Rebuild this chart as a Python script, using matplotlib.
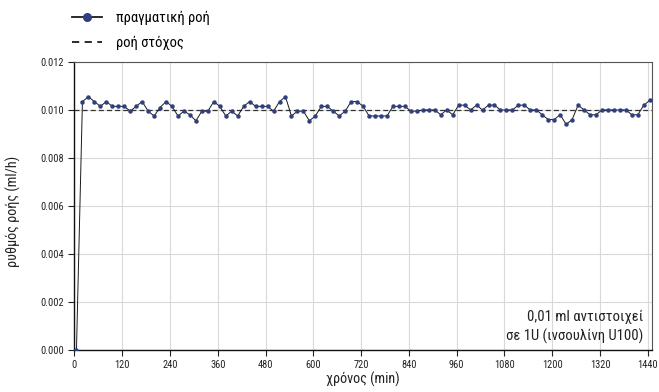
import numpy as np
import matplotlib
matplotlib.use("Agg")
import matplotlib.pyplot as plt
from matplotlib.lines import Line2D

plt.rcParams["font.family"] = ["Roboto Condensed", "Liberation Sans Narrow", "Liberation Sans", "DejaVu Sans"]

# sample times (min), every 15 min starting at 5
time_min = [5 + 15 * k for k in range(97)]

# measured flow (ml/h)
flow = [
    0.0,
    0.01035, 0.01055, 0.01035, 0.01015, 0.01035, 0.01015, 0.01015, 0.01015, 0.00995, 0.01015,
    0.01035, 0.00995, 0.00975, 0.0101, 0.01035, 0.01015, 0.00975, 0.00995, 0.0098, 0.00955,
    0.00995, 0.00995, 0.01035, 0.01015, 0.00975, 0.00995, 0.00975, 0.01015, 0.01035, 0.01015,
    0.01015, 0.01015, 0.00995, 0.01035, 0.01055, 0.00975, 0.00995, 0.00995, 0.00955, 0.00975,
    0.01015, 0.01015, 0.00995, 0.00975, 0.00995, 0.01035, 0.01035, 0.01015, 0.00975, 0.00975,
    0.00975, 0.00975, 0.01015, 0.01015, 0.01015, 0.00995, 0.00995, 0.0100, 0.0100, 0.0100,
    0.0098, 0.0100, 0.0098, 0.0102, 0.0102, 0.0100, 0.0102, 0.0100, 0.0102, 0.0102,
    0.0100, 0.0100, 0.0100, 0.0102, 0.0102, 0.0100, 0.0100, 0.0098, 0.0096, 0.0096,
    0.0098, 0.0094, 0.0096, 0.0102, 0.0100, 0.0098, 0.0098, 0.0100, 0.0100, 0.0100,
    0.0100, 0.0100, 0.0098, 0.0098, 0.0102, 0.0104,
]

target_flow = 0.01
x_ticks = list(range(0, 1441, 120))
y_ticks = [0.000, 0.002, 0.004, 0.006, 0.008, 0.010, 0.012]

fig = plt.figure(figsize=(6.59, 3.92), dpi=100)
ax = fig.add_axes([0.113, 0.107, 0.876, 0.735])

ax.plot(time_min, flow, color="#1a1a1a", linewidth=0.7, marker="o",
        markersize=2.2, markerfacecolor="#2f3f80", markeredgecolor="#2f3f80", zorder=3)
ax.plot([0, 1450], [target_flow, target_flow], color="#333333", linewidth=0.9,
        dashes=(4, 2.5), zorder=2)

ax.set_xlim(0, 1450)
ax.set_ylim(0, 0.012)
ax.set_xticks(x_ticks)
ax.set_yticks(y_ticks)
ax.set_yticklabels([f"{v:.3f}" for v in y_ticks])
ax.tick_params(labelsize=7.5, length=4, width=0.8, colors="#222222")
ax.grid(True, color="#d9d9d9", linewidth=0.8)
ax.set_axisbelow(True)

for side in ["top", "right"]:
    ax.spines[side].set_color("#555555")
    ax.spines[side].set_linewidth(0.8)
for side in ["left", "bottom"]:
    ax.spines[side].set_color("#111111")
    ax.spines[side].set_linewidth(1.0)

ax.set_xlabel("χρόνος (min)", fontsize=10.2, color="#222222")
ax.xaxis.set_label_coords(0.5, -0.075)
ax.set_ylabel("ρυθμός ροής (ml/h)", fontsize=10.2, color="#222222")
ax.yaxis.set_label_coords(-0.093, 0.48)

ax.text(0.985, 0.02, "0,01 ml αντιστοιχεί\nσε 1U (ινσουλίνη U100)", transform=ax.transAxes,
        ha="right", va="bottom", fontsize=10.6, color="#222222", linespacing=1.4)

handles = [
    Line2D([], [], color="#1a1a1a", linewidth=1.3, marker="o", markersize=5.5,
           markerfacecolor="#2f3f80", markeredgecolor="#2f3f80"),
    Line2D([], [], color="#1a1a1a", linewidth=1.3, dashes=(4, 3)),
]
fig.legend(handles, ["πραγματική ροή", "ροή στόχος"], loc="upper left",
           bbox_to_anchor=(0.09, 1.005), frameon=False, fontsize=10.5,
           handlelength=2.0, handletextpad=1.0, labelspacing=0.72)

fig.savefig("out.png", dpi=100)
